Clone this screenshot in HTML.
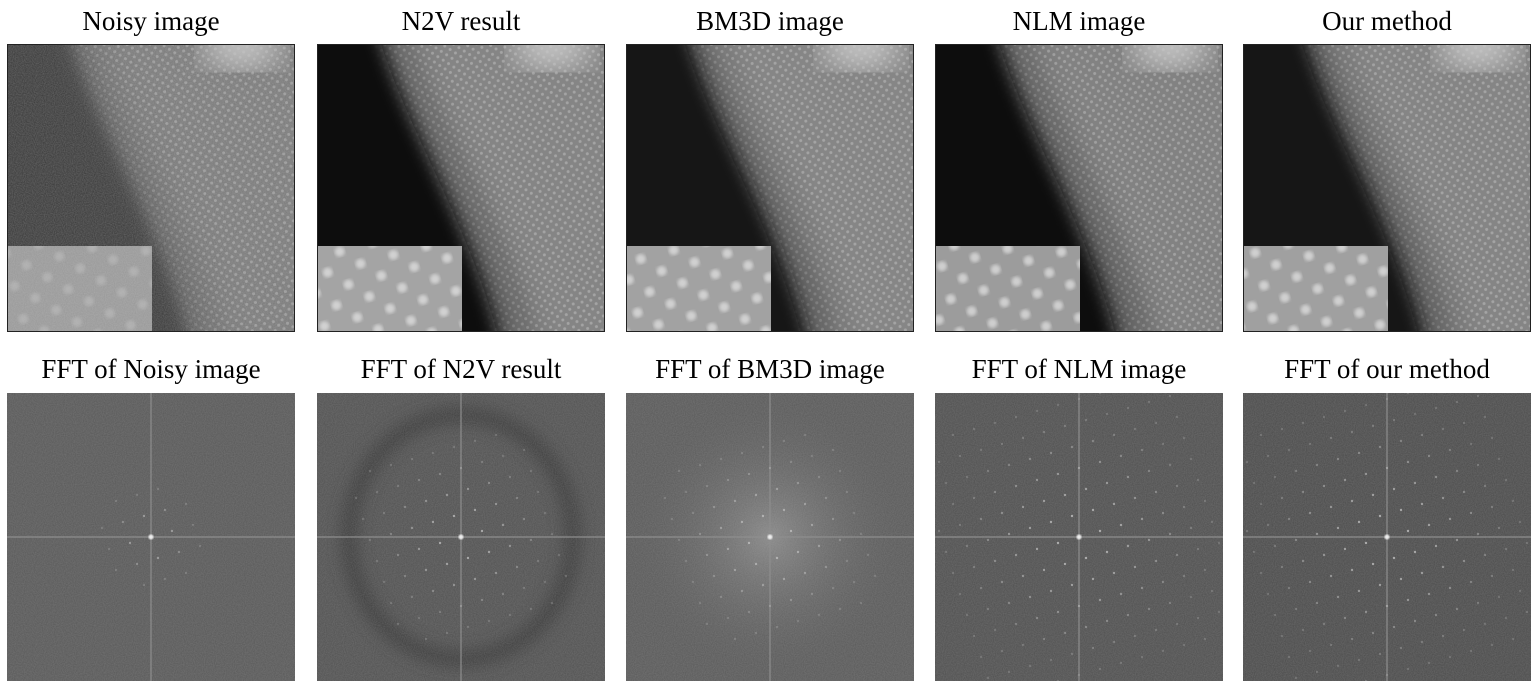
<!DOCTYPE html>
<html><head><meta charset="utf-8"><style>
html,body{margin:0;padding:0;background:#fff;width:1535px;height:687px;overflow:hidden}
#fig{position:absolute;left:0;top:0}
</style></head><body>
<svg id="fig" width="1535" height="687" xmlns="http://www.w3.org/2000/svg">
<defs>
<filter id="blur8"><feGaussianBlur stdDeviation="8"/></filter>
<filter id="blur16"><feGaussianBlur stdDeviation="16"/></filter>
<filter id="blur1"><feGaussianBlur stdDeviation="0.8"/></filter>
<filter id="blur2"><feGaussianBlur stdDeviation="1.6"/></filter>
<filter id="noise" x="0" y="0" width="100%" height="100%">
<feTurbulence type="fractalNoise" baseFrequency="0.9" numOctaves="1" seed="3" result="t"/>
<feColorMatrix in="t" type="matrix" values="0 0 0 0 0.5  0 0 0 0 0.5  0 0 0 0 0.5  0.6 0 0 0 -0.1"/>
</filter>
<pattern id="dots" width="9" height="9" patternUnits="userSpaceOnUse" patternTransform="rotate(-12)">
<circle cx="2.5" cy="2.5" r="1.5" fill="#fff" fill-opacity="0.25"/>
<circle cx="7" cy="7" r="1.5" fill="#fff" fill-opacity="0.25"/>
</pattern>
<pattern id="bigdots" width="34" height="34" patternUnits="userSpaceOnUse" patternTransform="rotate(-15)">
<circle cx="8" cy="8" r="5" fill="#e4e4e4" fill-opacity="0.7" filter="url(#blur2)"/>
<circle cx="25" cy="25" r="5" fill="#e4e4e4" fill-opacity="0.7" filter="url(#blur2)"/>
</pattern>
<radialGradient id="bmglow"><stop offset="0" stop-color="#8a8a8a"/><stop offset="1" stop-color="#5e5e5e" stop-opacity="0"/></radialGradient>
</defs>
<g id="panels"></g>
</svg>
<script>
const titlesTop=["Noisy image","N2V result","BM3D image","NLM image","Our method"];
const titlesBottom=["FFT of Noisy image","FFT of N2V result","FFT of BM3D image","FFT of NLM image","FFT of our method"];
const panelX=[7,317,626,935,1243];
const darkLevel=["#3c3c3c","#0b0b0b","#151515","#0a0a0a","#161616"];
const lightLevel=["#7c7c7c","#858585","#868686","#828282","#858585"];
const insetBg=["#9a9a9a","#a4a4a4","#a2a2a2","#9c9c9c","#a0a0a0"];
const fftBg=["#5c5c5c","#555555","#5d5d5d","#535353","#4f4f4f"];
const spotCount=[1,2,2,3,3];
const NS="http://www.w3.org/2000/svg";
const root=document.getElementById('panels');
function mk(tag,attrs,parent){const e=document.createElementNS(NS,tag);for(const k in attrs)e.setAttribute(k,attrs[k]);(parent||root).appendChild(e);return e;}
const W=288,H=288,TY=44,BY=393;
titlesTop.forEach((t,i)=>{
  const x=panelX[i];
  const tt=mk('text',{x:x+W/2,y:30,'text-anchor':'middle','font-family':'Liberation Serif, serif','font-size':'27',fill:'#000'});
  tt.textContent=t;
  
  
  const g=mk('g',{});
  
  
  const cid='clipT'+i;
  const cp=mk('clipPath',{id:cid},g);mk('rect',{x:x,y:TY,width:W,height:H},cp);
  const ig=mk('g',{'clip-path':'url(#'+cid+')'},g);
  mk('rect',{x:x,y:TY,width:W,height:H,fill:lightLevel[i]},ig);
  mk('rect',{x:x,y:TY,width:W,height:H,fill:'url(#dots)'},ig);
  mk('ellipse',{cx:x+235,cy:TY+2,rx:40,ry:22,fill:'#c8c8c8',filter:'url(#blur16)'},ig);
  mk('path',{d:`M${x-30},${TY-20} L${x+80},${TY-20} C${x+110},${TY+80} ${x+185},${TY+180} ${x+215},${TY+H+20} L${x-30},${TY+H+20} Z`,fill:darkLevel[i],opacity:0.35,filter:'url(#blur16)'},ig);
  mk('path',{d:`M${x-30},${TY-20} L${x+58},${TY-20} C${x+85},${TY+80} ${x+155},${TY+180} ${x+185},${TY+H+20} L${x-30},${TY+H+20} Z`,fill:darkLevel[i],filter:'url(#blur8)'},ig);
  if(i===0) mk('rect',{x:x,y:TY,width:W,height:H,filter:'url(#noise)',opacity:0.7},ig);
  mk('rect',{x:x,y:TY+202,width:145,height:86,fill:insetBg[i]},ig);
  if(i===0){mk('rect',{x:x,y:TY+202,width:145,height:86,fill:'url(#bigdots)',opacity:0.4},ig);
    mk('rect',{x:x,y:TY+202,width:145,height:86,filter:'url(#noise)'},ig);}
  else mk('rect',{x:x,y:TY+202,width:145,height:86,fill:'url(#bigdots)'},ig);
  mk('rect',{x:x+0.5,y:TY+0.5,width:W-1,height:H-1,fill:'none',stroke:'#222','stroke-width':1},g);
});
titlesBottom.forEach((t,i)=>{
  const x=panelX[i];
  const tt=mk('text',{x:x+W/2,y:378,'text-anchor':'middle','font-family':'Liberation Serif, serif','font-size':'27',fill:'#000'});
  tt.textContent=t;
  
  
  const g=mk('g',{});
  
  
  const cid='clipB'+i;
  const cp=mk('clipPath',{id:cid},g);mk('rect',{x:x,y:BY,width:W,height:H},cp);
  const ig=mk('g',{'clip-path':'url(#'+cid+')'},g);
  mk('rect',{x:x,y:BY,width:W,height:H,fill:fftBg[i]},ig);
  const cx=x+144,cy=BY+144;
  if(i===1) mk('ellipse',{cx:cx,cy:cy,rx:112,ry:122,fill:'none',stroke:'#3c3c3c','stroke-width':16,filter:'url(#blur8)'},ig);
  if(i===2) mk('circle',{cx:cx,cy:cy,r:140,fill:'url(#bmglow)'},ig);
  mk('rect',{x:x,y:BY,width:W,height:H,filter:'url(#noise)',opacity:0.5},ig);
  mk('line',{x1:x,y1:cy,x2:x+W,y2:cy,stroke:'#8e8e8e','stroke-width':1.2},ig);
  mk('line',{x1:cx,y1:BY,x2:cx,y2:BY+H,stroke:'#8e8e8e','stroke-width':1.2},ig);
  const n=spotCount[i];
  for(let a=-n*2;a<=n*2;a++)for(let b=-n*2;b<=n*2;b++){
    if(a===0&&b===0)continue;
    const px=cx+a*21+b*7, py=cy+b*21-a*6;
    const d=Math.hypot(px-cx,py-cy);
    if(d>60*n)continue;
    mk('circle',{cx:px,cy:py,r:1.2,fill:'#c8c8c8',opacity:Math.max(0.25,0.85-d/(70*n))},ig);
  }
  mk('circle',{cx:cx,cy:cy,r:2.5,fill:'#eee',filter:'url(#blur1)'},ig);
});
</script>
</body></html>
